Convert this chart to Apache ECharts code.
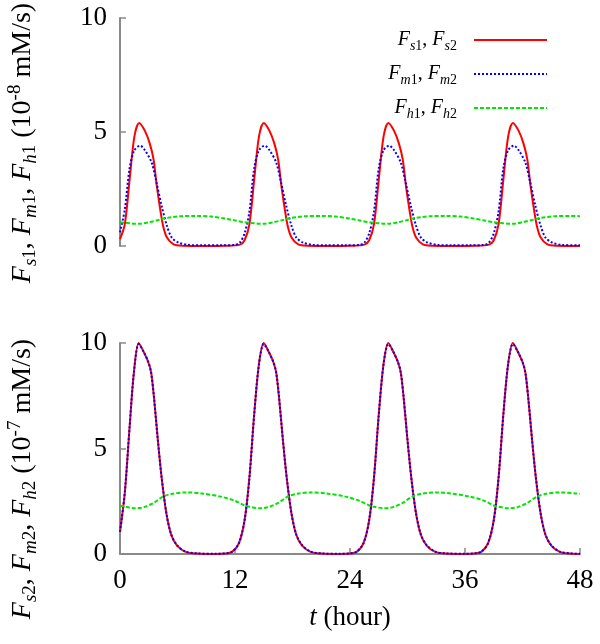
<!DOCTYPE html>
<html><head><meta charset="utf-8">
<script src="https://cdn.jsdelivr.net/npm/echarts@6/dist/echarts.min.js"></script>
<style>html,body{margin:0;padding:0;background:#fff}#c{width:600px;height:644px}</style>
</head><body><div id="c"></div>
<script>
// x axis (hours) and y ticks
const xTicks = [0, 12, 24, 36, 48];
const yTicksTop = [0, 5, 10];
const yTicksBottom = [0, 5, 10];

// Top panel (10^-8 mM/s): [t, value]
const topRed = [[0,0.3],[0.5,0.95],[1,2.9],[1.5,4.8],[2,5.4],[2.6,5.05],[3.1,4.5],[3.5,3.8],[3.85,2.6],[4.2,1.6],[4.5,0.88],[4.9,0.37],[5.6,0.07],[6.5,0.01],[9,0],[11,0.01],[12.5,0.06],[13,0.25],[13.5,0.95],[14,2.9],[14.5,4.8],[15,5.4],[15.6,5.05],[16.1,4.5],[16.5,3.8],[16.85,2.6],[17.2,1.6],[17.5,0.88],[17.9,0.37],[18.6,0.07],[19.5,0.01],[22,0],[24,0.01],[25.5,0.06],[26,0.25],[26.5,0.95],[27,2.9],[27.5,4.8],[28,5.4],[28.6,5.05],[29.1,4.5],[29.5,3.8],[29.85,2.6],[30.2,1.6],[30.5,0.88],[30.9,0.37],[31.6,0.07],[32.5,0.01],[35,0],[37,0.01],[38.5,0.06],[39,0.25],[39.5,0.95],[40,2.9],[40.5,4.8],[41,5.4],[41.6,5.05],[42.1,4.5],[42.5,3.8],[42.85,2.6],[43.2,1.6],[43.5,0.88],[43.9,0.37],[44.6,0.07],[45.5,0.01],[48,0]];
const topBlue = [[0,0.6],[0.5,1.6],[1,3.4],[1.5,4.2],[2.1,4.4],[2.6,4.2],[3.3,3.66],[3.8,2.8],[4.35,1.75],[4.9,0.88],[5.4,0.37],[6.1,0.15],[7.1,0.05],[8.5,0.03],[10.5,0.03],[12,0.05],[12.5,0.15],[13,0.55],[13.5,1.5],[14,3.4],[14.5,4.2],[15.1,4.4],[15.6,4.2],[16.3,3.66],[16.8,2.8],[17.35,1.75],[17.9,0.88],[18.4,0.37],[19.1,0.15],[20.1,0.05],[21.5,0.03],[23.5,0.03],[25,0.05],[25.5,0.15],[26,0.55],[26.5,1.5],[27,3.4],[27.5,4.2],[28.1,4.4],[28.6,4.2],[29.3,3.66],[29.8,2.8],[30.35,1.75],[30.9,0.88],[31.4,0.37],[32.1,0.15],[33.1,0.05],[34.5,0.03],[36.5,0.03],[38,0.05],[38.5,0.15],[39,0.55],[39.5,1.5],[40,3.4],[40.5,4.2],[41.1,4.4],[41.6,4.2],[42.3,3.66],[42.8,2.8],[43.35,1.75],[43.9,0.88],[44.4,0.37],[45.1,0.15],[46.1,0.05],[48,0.03]];
const topGreen = [[0,1.04],[1,1.0],[1.5,0.98],[2,0.98],[3,1.04],[4,1.14],[4.5,1.2],[5.5,1.27],[6.5,1.31],[8,1.32],[9.5,1.29],[11,1.2],[12,1.12],[13,1.04],[14,1.0],[14.5,0.98],[15,0.98],[16,1.04],[17,1.14],[17.5,1.2],[18.5,1.27],[19.5,1.31],[21,1.32],[22.5,1.29],[24,1.2],[25,1.12],[26,1.04],[27,1.0],[27.5,0.98],[28,0.98],[29,1.04],[30,1.14],[30.5,1.2],[31.5,1.27],[32.5,1.31],[34,1.32],[35.5,1.29],[37,1.2],[38,1.12],[39,1.04],[40,1.0],[40.5,0.98],[41,0.98],[42,1.04],[43,1.14],[43.5,1.2],[44.5,1.27],[45.5,1.31],[47,1.32],[48,1.31]];

// Bottom panel (10^-7 mM/s): [t, value]
const botRed = [[0,1.05],[0.5,2.9],[1,6.0],[1.45,8.6],[1.95,10],[2.45,9.6],[2.95,9.1],[3.25,8.6],[3.55,7.4],[3.95,5.4],[4.35,3.6],[4.85,1.9],[5.35,0.9],[5.95,0.4],[6.85,0.1],[8,0.02],[10,0],[11,0.02],[11.7,0.1],[12.4,0.5],[13,1.6],[13.5,3.6],[14,6.6],[14.5,9.0],[15,10],[15.5,9.6],[16,9.1],[16.3,8.6],[16.6,7.4],[17,5.4],[17.4,3.6],[17.9,1.9],[18.4,0.9],[19,0.4],[19.9,0.1],[21,0.02],[23,0],[24,0.02],[24.7,0.1],[25.4,0.5],[26,1.6],[26.5,3.6],[27,6.6],[27.5,9.0],[28,10],[28.5,9.6],[29,9.1],[29.3,8.6],[29.6,7.4],[30,5.4],[30.4,3.6],[30.9,1.9],[31.4,0.9],[32,0.4],[32.9,0.1],[34,0.02],[36,0],[37,0.02],[37.7,0.1],[38.4,0.5],[39,1.6],[39.5,3.6],[40,6.6],[40.5,9.0],[41,10],[41.5,9.6],[42,9.1],[42.3,8.6],[42.6,7.4],[43,5.4],[43.4,3.6],[43.9,1.9],[44.4,0.9],[45,0.4],[45.9,0.1],[47,0.02],[48,0]];
const botBlue = [[0,1.05],[0.5,2.9],[1,6.0],[1.45,8.6],[1.95,9.95],[2.45,9.6],[2.95,9.1],[3.25,8.6],[3.55,7.4],[3.95,5.4],[4.35,3.6],[4.85,1.9],[5.35,0.92],[5.95,0.42],[6.85,0.11],[8,0.03],[10,0.01],[11,0.03],[11.7,0.11],[12.4,0.5],[13,1.6],[13.5,3.6],[14,6.6],[14.5,9.0],[15,9.95],[15.5,9.6],[16,9.1],[16.3,8.6],[16.6,7.4],[17,5.4],[17.4,3.6],[17.9,1.9],[18.4,0.92],[19,0.42],[19.9,0.11],[21,0.03],[23,0.01],[24,0.03],[24.7,0.11],[25.4,0.5],[26,1.6],[26.5,3.6],[27,6.6],[27.5,9.0],[28,9.95],[28.5,9.6],[29,9.1],[29.3,8.6],[29.6,7.4],[30,5.4],[30.4,3.6],[30.9,1.9],[31.4,0.92],[32,0.42],[32.9,0.11],[34,0.03],[36,0.01],[37,0.03],[37.7,0.11],[38.4,0.5],[39,1.6],[39.5,3.6],[40,6.6],[40.5,9.0],[41,9.95],[41.5,9.6],[42,9.1],[42.3,8.6],[42.6,7.4],[43,5.4],[43.4,3.6],[43.9,1.9],[44.4,0.92],[45,0.42],[45.9,0.11],[47,0.03],[48,0.01]];
const botGreen = [[0,2.3],[0.5,2.24],[1.5,2.17],[2,2.18],[2.5,2.22],[3.5,2.42],[4.5,2.72],[5.5,2.86],[7,2.92],[8.5,2.87],[10.5,2.72],[12,2.52],[13,2.3],[13.5,2.24],[14.5,2.17],[15,2.18],[15.5,2.22],[16.5,2.42],[17.5,2.72],[18.5,2.86],[20,2.92],[21.5,2.87],[23.5,2.72],[25,2.52],[26,2.3],[26.5,2.24],[27.5,2.17],[28,2.18],[28.5,2.22],[29.5,2.42],[30.5,2.72],[31.5,2.86],[33,2.92],[34.5,2.87],[36.5,2.72],[38,2.52],[39,2.3],[39.5,2.24],[40.5,2.17],[41,2.18],[41.5,2.22],[42.5,2.42],[43.5,2.72],[44.5,2.86],[46,2.92],[47.5,2.87],[48,2.85]];

const seriesNames = ['Fs', 'Fm', 'Fh'];
const legendLabels = {
  Fs: '{i|F}{si|s}{sn|1}{n|, }{i|F}{si|s}{sn|2}{gap|}',
  Fm: '{i|F}{si|m}{sn|1}{n|, }{i|F}{si|m}{sn|2}{gap|}',
  Fh: '{i|F}{si|h}{sn|1}{n|, }{i|F}{si|h}{sn|2}{gap|}'
};
const topTitle = '{i|F}{si|s}{sn|1}{n|, }{i|F}{si|m}{sn|1}{n|, }{i|F}{si|h}{sn|1}{n| (10}{sup|-8}{n| mM/s)}';
const botTitle = '{i|F}{si|s}{sn|2}{n|, }{i|F}{si|m}{sn|2}{n|, }{i|F}{si|h}{sn|2}{n| (10}{sup|-7}{n| mM/s)}';

const FONT = '"Liberation Serif","Times New Roman",serif';
const AX = '#8a8a8a';
const titleRich = {
  i: {fontFamily: FONT, fontStyle: 'italic', fontSize: 28, lineHeight: 34, fill: '#000'},
  n: {fontFamily: FONT, fontSize: 28, lineHeight: 34, fill: '#000'},
  si: {fontFamily: FONT, fontStyle: 'italic', fontSize: 19, lineHeight: 19, verticalAlign: 'bottom', fill: '#000'},
  sn: {fontFamily: FONT, fontSize: 19, lineHeight: 19, verticalAlign: 'bottom', fill: '#000'},
  sup: {fontFamily: FONT, fontSize: 19, lineHeight: 19, verticalAlign: 'top', fill: '#000'}
};
const legendRich = {
  i: {fontFamily: FONT, fontStyle: 'italic', fontSize: 20, lineHeight: 26, color: '#000'},
  n: {fontFamily: FONT, fontSize: 20, lineHeight: 26, color: '#000'},
  si: {fontFamily: FONT, fontStyle: 'italic', fontSize: 14, lineHeight: 14, verticalAlign: 'bottom', color: '#000'},
  sn: {fontFamily: FONT, fontSize: 14, lineHeight: 14, verticalAlign: 'bottom', color: '#000'},
  gap: {width: 12}
};

const colors = {Fs: '#ff0000', Fm: '#0000ff', Fh: '#00e600'};
const lineTypes = {Fs: 'solid', Fm: [2, 2], Fh: [4, 2]};

function mkSeries(name, data, idx) {
  return {
    name, type: 'line', data, xAxisIndex: idx, yAxisIndex: idx,
    symbol: 'none', smooth: 0.3,
    lineStyle: {color: colors[name], width: 2, type: lineTypes[name]},
    itemStyle: {color: colors[name]}, z: name === 'Fh' ? 4 : (name === 'Fm' ? 3 : 2)
  };
}

function mkLegend(name, top) {
  return {
    data: [name], orient: 'vertical', align: 'right', right: 52, top,
    itemWidth: 73, itemHeight: 14, padding: 0,
    itemStyle: {opacity: 0, borderWidth: 0},
    formatter: n => legendLabels[n],
    textStyle: {rich: legendRich}
  };
}

function yAxis(idx) {
  return {
    gridIndex: idx, type: 'value', min: 0, max: 10, interval: 5,
    axisLine: {show: true, lineStyle: {color: AX, width: 2}},
    axisTick: {show: true, inside: true, length: 6, lineStyle: {color: AX, width: 1.5}},
    axisLabel: {fontFamily: FONT, fontSize: 27, color: '#000', margin: 13},
    splitLine: {show: false}
  };
}

const chart = echarts.init(document.getElementById('c'), null, {renderer: 'canvas'});
chart.setOption({
  animation: false,
  backgroundColor: '#fff',
  grid: [
    {left: 120, right: 20, top: 18, height: 228},
    {left: 120, right: 20, top: 343, height: 211}
  ],
  xAxis: [
    {gridIndex: 0, type: 'value', min: 0, max: 48, interval: 12,
     axisLine: {show: false}, axisTick: {show: false}, axisLabel: {show: false}, splitLine: {show: false}},
    {gridIndex: 1, type: 'value', min: 0, max: 48, interval: 12,
     axisLine: {show: true, onZero: false, lineStyle: {color: AX, width: 2}},
     axisTick: {show: true, inside: true, length: 6, lineStyle: {color: AX, width: 1.5}},
     axisLabel: {fontFamily: FONT, fontSize: 27, color: '#000', margin: 13},
     splitLine: {show: false},
     name: '{i|t}{n| (hour)}', nameLocation: 'middle', nameGap: 50,
     nameTextStyle: {rich: {
       i: {fontFamily: FONT, fontStyle: 'italic', fontSize: 27, color: '#000'},
       n: {fontFamily: FONT, fontSize: 27, color: '#000'}}}}
  ],
  yAxis: [yAxis(0), yAxis(1)],
  legend: [mkLegend('Fs', 30), mkLegend('Fm', 64), mkLegend('Fh', 98)],
  graphic: [
    {type: 'text', x: 23, y: 143, rotation: Math.PI / 2,
     style: {text: topTitle, rich: titleRich, align: 'center', verticalAlign: 'middle'}},
    {type: 'text', x: 23, y: 479, rotation: Math.PI / 2,
     style: {text: botTitle, rich: titleRich, align: 'center', verticalAlign: 'middle'}}
  ],
  series: [
    mkSeries('Fs', topRed, 0), mkSeries('Fm', topBlue, 0), mkSeries('Fh', topGreen, 0),
    mkSeries('Fs', botRed, 1), mkSeries('Fm', botBlue, 1), mkSeries('Fh', botGreen, 1)
  ]
});
</script></body></html>
